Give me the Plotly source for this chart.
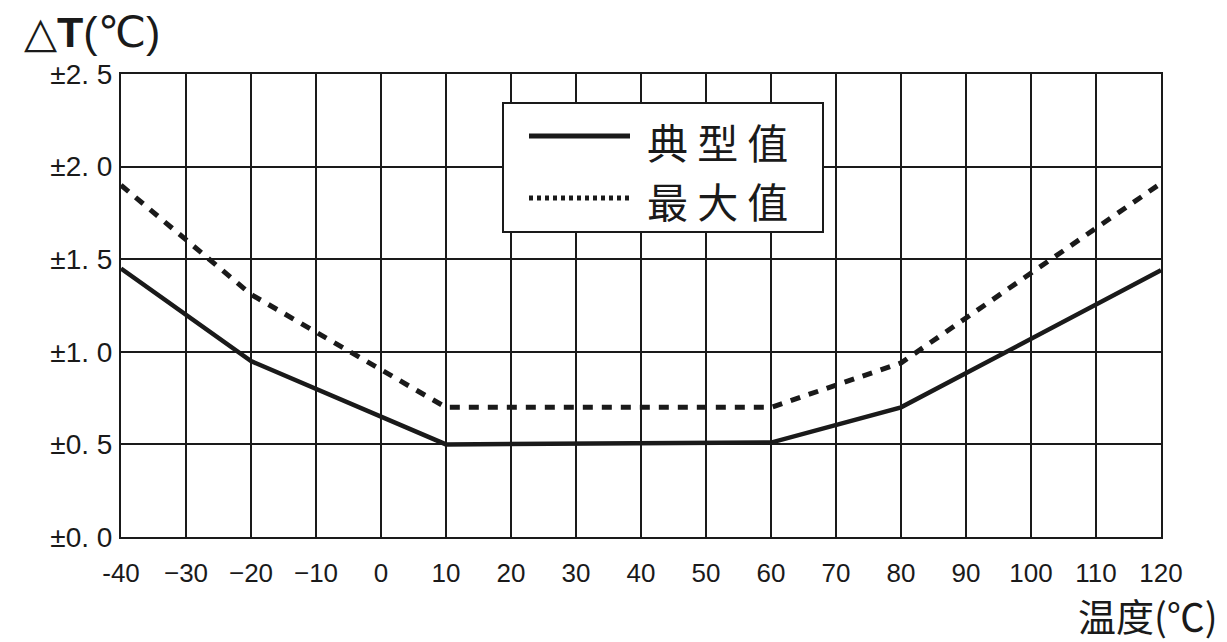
"""
Temperature error curve: typical and maximum ΔT vs temperature.
"""
import plotly.graph_objects as go

# data
temps = [-40, -20, 10, 60, 80, 120]
typical = [1.45, 0.95, 0.50, 0.51, 0.70, 1.44]
maximum = [1.90, 1.31, 0.70, 0.70, 0.94, 1.91]

x_ticks = [-40, -30, -20, -10, 0, 10, 20, 30, 40, 50, 60, 70, 80, 90, 100, 110, 120]
x_ticktext = ["-40", "−30", "−20", "−10", "0", "10", "20", "30", "40", "50",
              "60", "70", "80", "90", "100", "110", "120"]
y_ticks = [0.0, 0.5, 1.0, 1.5, 2.0, 2.5]
y_ticktext = ["±0. 0", "±0. 5", "±1. 0", "±1. 5", "±2. 0", "±2. 5"]

legend_names = ["典 型 值", "最 大 值"]

W, H = 1227, 642
L, R, T, B = 121, 66, 74, 105
PW, PH = W - L - R, H - T - B


def px(x):
    return (x - L) / PW


def py(y):
    return (H - B - y) / PH


INK = "#1a1a1a"
FONT = "Liberation Sans, Arial, DejaVu Sans, sans-serif"
CJK = "Noto Sans CJK SC, sans-serif"

fig = go.Figure()

fig.add_trace(go.Scatter(
    x=temps, y=typical, mode="lines", name="典型值",
    line={"color": INK, "width": 4.5},
    showlegend=False,
))
fig.add_trace(go.Scatter(
    x=temps, y=maximum, mode="lines", name="最大值",
    line={"color": INK, "width": 5, "dash": "10px,9px"},
    showlegend=False,
))

# hand-drawn legend box
fig.add_shape(type="rect", xref="paper", yref="paper",
              x0=px(503), x1=px(823), y0=py(232), y1=py(103),
              line={"color": INK, "width": 2}, fillcolor="white", layer="above")
fig.add_shape(type="line", xref="paper", yref="paper",
              x0=px(529), x1=px(630), y0=py(136), y1=py(136),
              line={"color": INK, "width": 5}, layer="above")
fig.add_shape(type="line", xref="paper", yref="paper",
              x0=px(529), x1=px(630), y0=py(198), y1=py(198),
              line={"color": INK, "width": 5, "dash": "4px,4px"}, layer="above")
for name, ypix in zip(legend_names, [141, 200]):
    fig.add_annotation(xref="paper", yref="paper", x=px(645), y=py(ypix),
                       xanchor="left", yanchor="middle", showarrow=False,
                       text=name, font={"family": CJK, "size": 41, "color": INK})

# axis titles
fig.add_annotation(xref="paper", yref="paper", x=px(22), y=py(32),
                   xanchor="left", yanchor="middle", showarrow=False,
                   text="△<b>T</b>(℃)", font={"family": FONT, "size": 43, "color": INK})
fig.add_annotation(xref="paper", yref="paper", x=px(1220), y=py(614),
                   xanchor="right", yanchor="middle", showarrow=False,
                   text="温度(℃)", font={"family": CJK, "size": 38, "color": INK})

fig.update_layout(
    width=W, height=H,
    paper_bgcolor="white",
    plot_bgcolor="white",
    margin={"l": L, "r": R, "t": T, "b": B, "autoexpand": False},
    font={"family": FONT, "color": INK, "size": 24},
    xaxis={
        "range": [-40, 120],
        "tickvals": x_ticks, "ticktext": x_ticktext,
        "showgrid": True, "gridcolor": INK, "gridwidth": 2,
        "zeroline": False,
        "showline": True, "linecolor": INK, "linewidth": 2, "mirror": True,
        "ticks": "", "ticklabelstandoff": 12,
        "tickfont": {"size": 26, "color": INK},
    },
    yaxis={
        "range": [0, 2.5],
        "tickvals": y_ticks, "ticktext": y_ticktext,
        "showgrid": True, "gridcolor": INK, "gridwidth": 2,
        "zeroline": False,
        "showline": True, "linecolor": INK, "linewidth": 2, "mirror": True,
        "ticks": "", "ticklabelstandoff": 1,
        "tickfont": {"size": 28, "color": INK},
    },
)

# drop the default page margin so the figure sits at the top-left corner
fig.write_html("out.html", config={"displayModeBar": False},
               post_script="document.body.style.margin='0';document.body.style.overflow='hidden';")
